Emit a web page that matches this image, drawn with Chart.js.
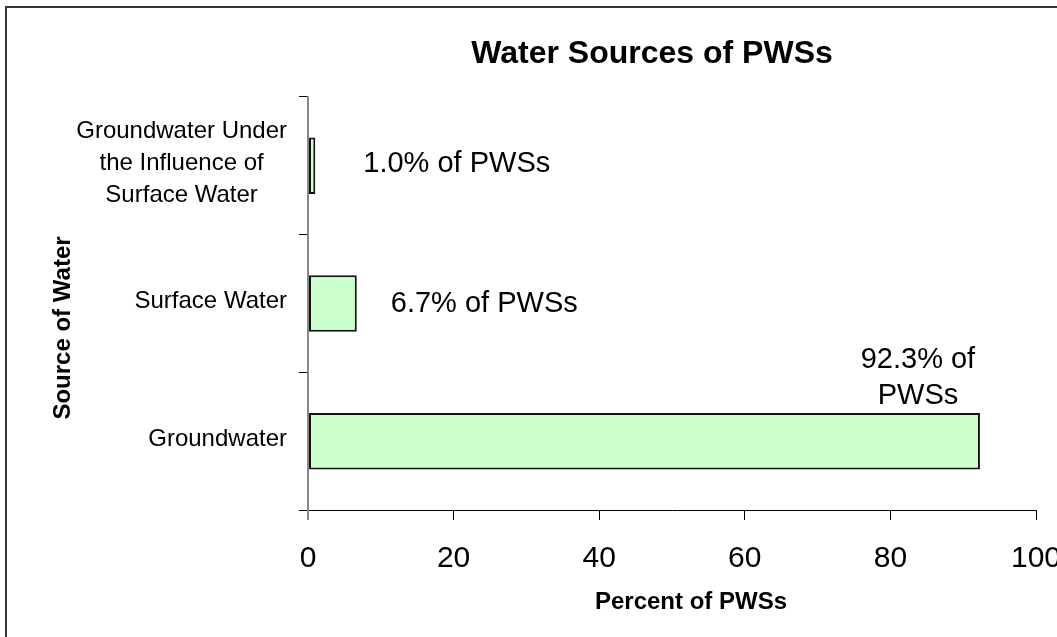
<!DOCTYPE html>
<html>
<head>
<meta charset="utf-8">
<title>Water Sources of PWSs</title>
<script src="https://cdn.jsdelivr.net/npm/chart.js@4.4.1/dist/chart.umd.min.js"></script>
<style>
  html, body { margin: 0; padding: 0; background: #fff; overflow: hidden; }
  #wrap { position: relative; width: 1057px; height: 637px; }
  canvas { display: block; }
</style>
</head>
<body>
<div id="wrap"><canvas id="chart" width="1057" height="637"></canvas></div>
<script>
// ---- data ----
const categories = [
  'Groundwater Under the Influence of Surface Water',
  'Surface Water',
  'Groundwater'
];
const categoryLines = [
  ['Groundwater Under', 'the Influence of', 'Surface Water'],
  ['Surface Water'],
  ['Groundwater']
];
const percentOfPWSs = [1.0, 6.7, 92.3];
const percentTicks = [0, 20, 40, 60, 80, 100];

const chartTitle = 'Water Sources of PWSs';
const xTitle = 'Percent of PWSs';
const yTitle = 'Source of Water';

// ---- styling / placement ----
const FONT = '"Liberation Sans", Arial, sans-serif';
const labelPlacement = [
  { align: 'left',   dx: 48,  dy: -2 },
  { align: 'left',   dx: 34,  dy: 0 },
  { align: 'center', dx: -62, above: true, wrap: true }
];

Chart.defaults.font.family = FONT;
Chart.defaults.color = '#000';

// outer frame of the chart
const framePlugin = {
  id: 'frame',
  beforeDraw(chart) {
    const c = chart.ctx;
    c.save();
    c.fillStyle = '#fff';
    c.fillRect(0, 0, chart.width, chart.height);
    c.strokeStyle = '#333';
    c.lineWidth = 2;
    c.strokeRect(6, 7, chart.width + 40, chart.height + 40);
    c.restore();
  }
};

// titles and category labels
const textPlugin = {
  id: 'texts',
  afterDraw(chart) {
    const c = chart.ctx;
    const area = chart.chartArea;
    const ys = chart.scales.y;
    c.save();
    c.fillStyle = '#000';
    c.textBaseline = 'middle';

    c.textAlign = 'center';
    c.font = 'bold 32px ' + FONT;
    c.fillText(chartTitle, 652, 54);

    c.font = 'bold 24px ' + FONT;
    c.fillText(xTitle, 691, 602);

    c.save();
    c.translate(63, 328);
    c.rotate(-Math.PI / 2);
    c.fillText(yTitle, 0, 0);
    c.restore();

    c.font = '24px ' + FONT;
    categoryLines.forEach((lines, i) => {
      const cy = ys.getPixelForValue(i) - 2;
      const w = Math.max(...lines.map(t => c.measureText(t).width));
      const cx = area.left - 21 - w / 2;
      lines.forEach((t, k) => {
        c.fillText(t, cx, cy + (k - (lines.length - 1) / 2) * 32);
      });
    });
    c.restore();
  }
};

// value labels next to the bars
const valueLabelPlugin = {
  id: 'valueLabels',
  afterDatasetsDraw(chart) {
    const c = chart.ctx;
    const meta = chart.getDatasetMeta(0);
    c.save();
    c.fillStyle = '#000';
    c.font = '29px ' + FONT;
    c.textBaseline = 'middle';
    meta.data.forEach((bar, i) => {
      const v = percentOfPWSs[i];
      const p = labelPlacement[i];
      const lines = p.wrap ? [v.toFixed(1) + '% of', 'PWSs'] : [v.toFixed(1) + '% of PWSs'];
      c.textAlign = p.align;
      const x = bar.x + p.dx;
      if (p.above) {
        const top = bar.y - bar.height / 2;
        lines.forEach((t, k) => {
          c.fillText(t, x, top - 17 - (lines.length - 1 - k) * 36);
        });
      } else {
        c.fillText(lines[0], x, bar.y + p.dy);
      }
    });
    c.restore();
  }
};

new Chart(document.getElementById('chart'), {
  type: 'bar',
  data: {
    labels: categories,
    datasets: [{
      data: percentOfPWSs,
      backgroundColor: '#ccffcc',
      borderColor: '#111',
      borderWidth: 2,
      borderSkipped: false,
      categoryPercentage: 1,
      barPercentage: 0.41
    }]
  },
  options: {
    indexAxis: 'y',
    responsive: false,
    animation: false,
    devicePixelRatio: 1,
    layout: { padding: { left: 0, right: 21, top: 97, bottom: 0 } },
    plugins: {
      legend: { display: false },
      title: { display: false },
      tooltip: { enabled: false }
    },
    scales: {
      x: {
        type: 'linear',
        min: 0,
        max: 100,
        afterBuildTicks(s) { s.ticks = percentTicks.map(v => ({ value: v })); },
        afterFit(s) { s.height = 127; s.paddingLeft = 0; s.paddingRight = 0; },
        ticks: { font: { size: 30 }, color: '#000', padding: 21, maxRotation: 0 },
        grid: {
          drawOnChartArea: false,
          drawTicks: true,
          tickLength: 10,
          color: ctx => (ctx.index === 0 ? '#888' : '#000'),
          lineWidth: ctx => (ctx.index === 0 ? 2 : 1)
        },
        border: { display: true, color: '#000', width: 1 }
      },
      y: {
        type: 'category',
        afterFit(s) { s.width = 308; s.paddingTop = 0; s.paddingBottom = 0; },
        ticks: { display: false },
        grid: {
          offset: true,
          drawOnChartArea: false,
          drawTicks: true,
          tickLength: 9,
          color: '#000',
          lineWidth: 1
        },
        border: { display: true, color: '#888', width: 2 }
      }
    }
  },
  plugins: [framePlugin, textPlugin, valueLabelPlugin]
});
</script>
</body>
</html>
